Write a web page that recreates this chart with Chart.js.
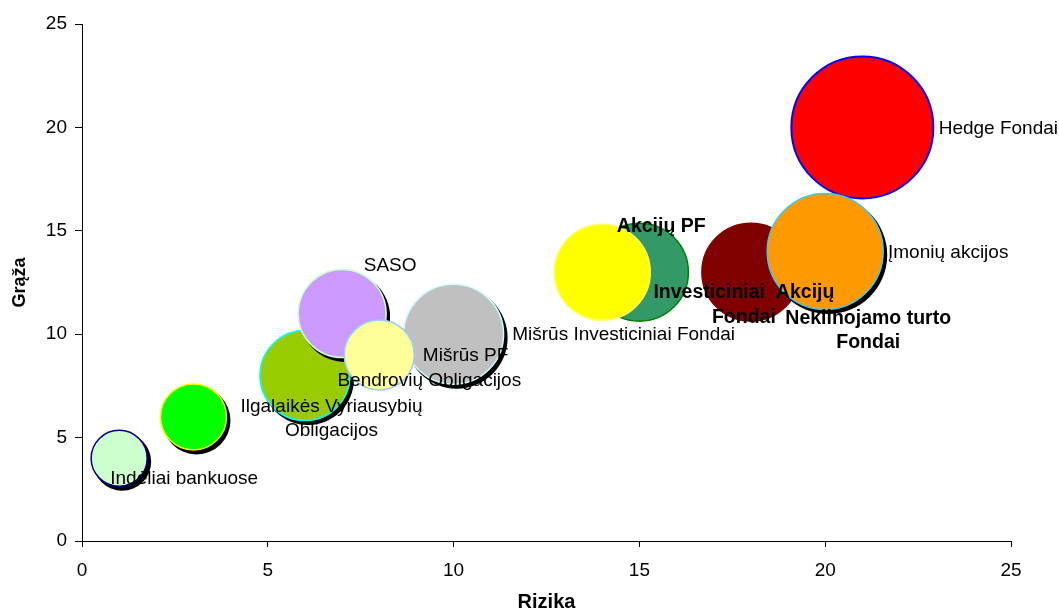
<!DOCTYPE html>
<html>
<head>
<meta charset="utf-8">
<script src="https://cdn.jsdelivr.net/npm/chart.js@4/dist/chart.umd.min.js"></script>
<style>
  html, body { margin: 0; padding: 0; background: #ffffff; }
  #wrap { width: 1059px; height: 608px; position: relative; }
</style>
</head>
<body>
<div id="wrap"><canvas id="chart"></canvas></div>
<script>
// Investment types: risk (x), return (y) and bubble magnitude.
// Listed in drawing order: the first one lies underneath, the last one on top.
const funds = [
  'Hedge Fondai',
  'Investiciniai Akcijų Fondai',
  'Įmonių akcijos',
  'Investiciniai Fondai',
  'Akcijų PF',
  'Mišrūs Investiciniai Fondai',
  'Ilgalaikės Vyriausybių Obligacijos (fondai)',
  'SASO',
  'Bendrovių Obligacijos',
  'Ilgalaikės Vyriausybių Obligacijos',
  'Indėliai bankuose'
];
const risk    = [21, 18, 20, 15, 14, 10, 6, 7, 8, 3, 1];
const returns = [20, 13, 14, 13, 13, 10, 8, 11, 9, 6, 4];
const bubbleSize = [71, 49, 58, 49, 48, 50, 45, 44, 35, 33, 28];

const xTicks = [0, 5, 10, 15, 20, 25];
const yTicks = [0, 5, 10, 15, 20, 25];

// Per-bubble styling
const fillColors   = ['#FF0000', '#800000', '#FF9900', '#339966', '#FFFF00', '#C0C0C0', '#99CC00', '#CC99FF', '#FFFF99', '#00FF00', '#CCFFCC'];
const borderColors = ['#0000FF', '#800000', '#33CCFF', '#008000', '#FFFF66', '#CCFFFF', '#00FFFF', '#CCFFCC', '#99CCFF', '#FFFF00', '#000080'];
const hasShadow    = [false, false, true, false, false, true, true, true, false, true, true];

// Text labels, each attached to a bubble (index into the arrays above)
const labelTexts = [
  ['Hedge Fondai'],
  ['Įmonių akcijos'],
  ['Nekilnojamo turto', 'Fondai'],
  ['Investiciniai  Akcijų', 'Fondai'],
  ['Akcijų PF'],
  ['Mišrūs Investiciniai Fondai'],
  ['Mišrūs PF'],
  ['Bendrovių Obligacijos'],
  ['SASO'],
  ['Ilgalaikės Vyriausybių', 'Obligacijos'],
  ['Indėliai bankuose']
];
const labelPlacement = [
  { bubble: 0,  dx: 136, dy: 1,   bold: false },
  { bubble: 2,  dx: 123, dy: 1,   bold: false },
  { bubble: 2,  dx: 43,  dy: 79,  bold: true  },
  { bubble: 1,  dx: -7,  dy: 33,  bold: true  },
  { bubble: 4,  dx: 59,  dy: -46, bold: true  },
  { bubble: 5,  dx: 170, dy: 1,   bold: false },
  { bubble: 5,  dx: 12,  dy: 22,  bold: false },
  { bubble: 8,  dx: 50,  dy: 26,  bold: false },
  { bubble: 7,  dx: 48,  dy: -48, bold: false },
  { bubble: 9,  dx: 138, dy: 2,   bold: false },
  { bubble: 10, dx: 65,  dy: 20,  bold: false }
];

const FONT = '"Liberation Sans", Arial, sans-serif';

// Bubbles may spill past the plot edges; no extra padding reserved for them
Chart.controllers.bubble.prototype.getMaxOverflow = function () { return 0; };

const datasets = funds.map((name, i) => ({
  label: name,
  data: [{ x: risk[i], y: returns[i], r: bubbleSize[i] }],
  backgroundColor: fillColors[i],
  borderColor: borderColors[i],
  borderWidth: i === 0 ? 2 : 1.5,
  hoverRadius: 0,
  hoverBorderWidth: i === 0 ? 2 : 1.5,
  clip: false,
  order: funds.length - i
}));

// Black drop shadow drawn right before its own bubble
const shadowPlugin = {
  id: 'bubbleShadow',
  beforeDatasetDraw(chart, args) {
    const i = args.index;
    if (!hasShadow[i]) return;
    const ctx = chart.ctx;
    args.meta.data.forEach(el => {
      const r = el.options.radius + 1;
      ctx.save();
      ctx.fillStyle = '#000000';
      ctx.beginPath();
      ctx.arc(el.x + 3, el.y + 3.5, r, 0, Math.PI * 2);
      ctx.fill();
      ctx.restore();
    });
  }
};

// Text labels next to the bubbles
const labelPlugin = {
  id: 'bubbleLabels',
  afterDatasetsDraw(chart) {
    const ctx = chart.ctx;
    ctx.save();
    ctx.fillStyle = '#000000';
    ctx.textAlign = 'center';
    ctx.textBaseline = 'middle';
    labelPlacement.forEach((p, k) => {
      const el = chart.getDatasetMeta(p.bubble).data[0];
      const lines = labelTexts[k];
      ctx.font = (p.bold ? 'bold 19.5px ' : '19px ') + FONT;
      const lh = 24.5;
      const y0 = el.y + p.dy - (lines.length - 1) * lh / 2;
      lines.forEach((t, j) => ctx.fillText(t, el.x + p.dx, y0 + j * lh));
    });
    ctx.restore();
  }
};

new Chart(document.getElementById('chart'), {
  type: 'bubble',
  data: { datasets },
  plugins: [shadowPlugin, labelPlugin],
  options: {
    responsive: true,
    maintainAspectRatio: false,
    animation: false,
    events: [],
    layout: { padding: { left: 0, right: 48, top: 24, bottom: 0 } },
    plugins: { legend: { display: false }, tooltip: { enabled: false } },
    scales: {
      x: {
        type: 'linear',
        min: 0, max: 25,
        afterBuildTicks: s => { s.ticks = xTicks.map(v => ({ value: v })); },
        afterFit: s => { s.height = 67; },
        ticks: { color: '#000', font: { family: FONT, size: 19 }, padding: 12, maxRotation: 0 },
        grid: { drawOnChartArea: false, drawTicks: true, tickLength: 6, tickColor: '#000', tickWidth: 1 },
        border: { display: true, color: '#000', width: 1 },
        title: { display: true, text: 'Rizika', color: '#000', font: { family: FONT, size: 20, weight: 'bold', lineHeight: 0.6 }, padding: { top: 0, bottom: 0 } }
      },
      y: {
        type: 'linear',
        min: 0, max: 25,
        afterBuildTicks: s => { s.ticks = yTicks.map(v => ({ value: v })); },
        afterFit: s => { s.width = 82; },
        ticks: { color: '#000', font: { family: FONT, size: 19 }, padding: 8 },
        grid: { drawOnChartArea: false, drawTicks: true, tickLength: 7, tickColor: '#000', tickWidth: 1 },
        border: { display: true, color: '#000', width: 1 },
        title: { display: true, text: 'Grąža', color: '#000', font: { family: FONT, size: 18, weight: 'bold' }, padding: { top: 9, bottom: 0 } }
      }
    }
  }
});
</script>
</body>
</html>
